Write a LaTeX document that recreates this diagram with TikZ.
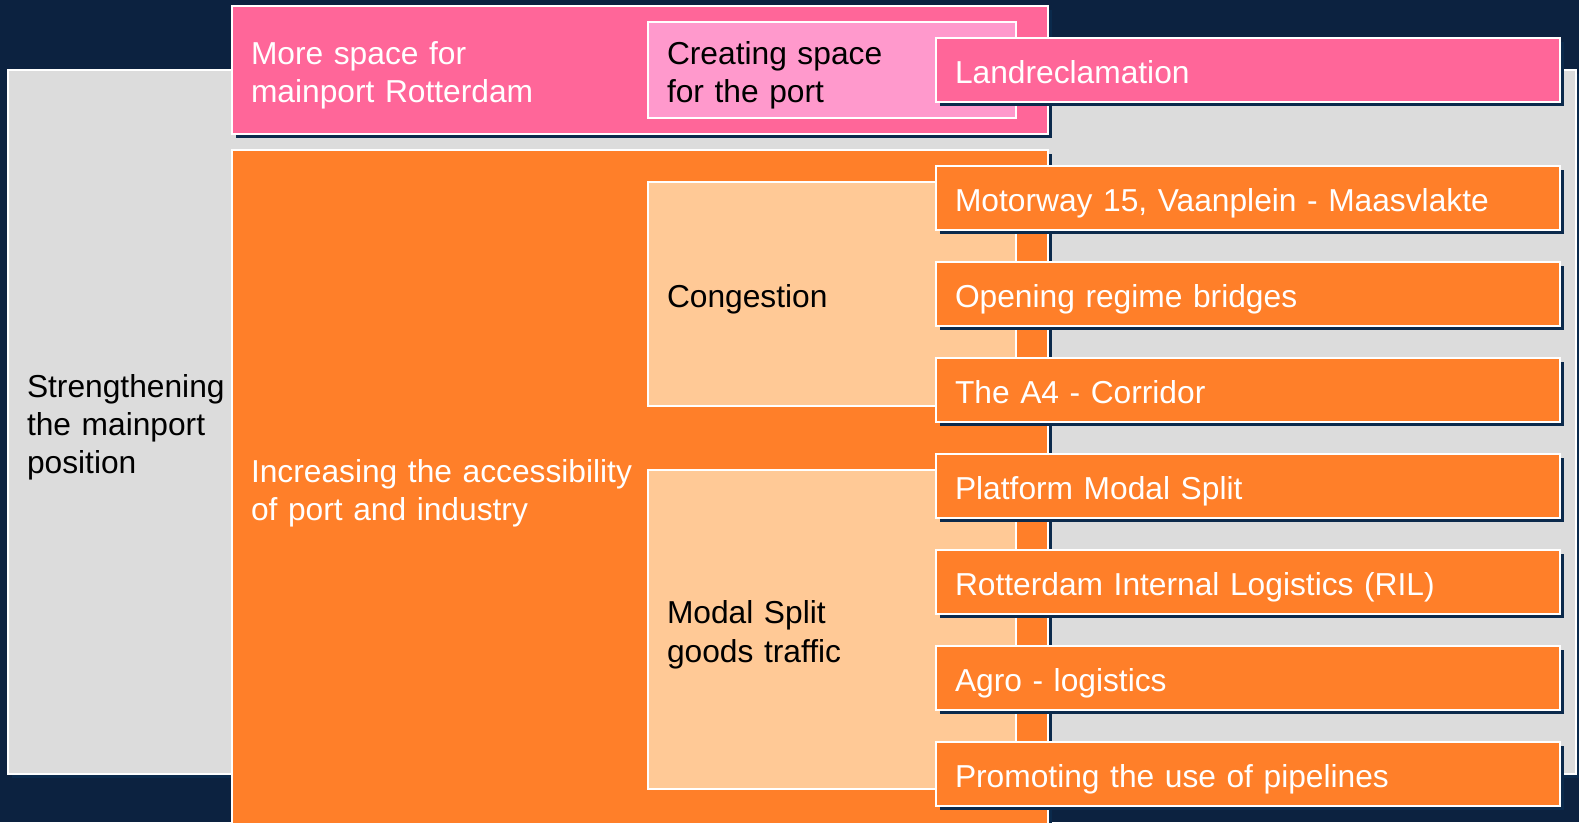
\documentclass[tikz,border=0pt]{standalone}
\usepackage{fontspec}
\setmainfont{Liberation Sans}
\usetikzlibrary{shadows}
\definecolor{navy}{HTML}{0C2240}
\definecolor{shadowc}{HTML}{0B2A4C}
\definecolor{grayA}{HTML}{DCDCDC}
\definecolor{pinkA}{HTML}{FF6699}
\definecolor{pinkB}{HTML}{FF99CC}
\definecolor{orangeA}{HTML}{FF7F29}
\definecolor{peach}{HTML}{FFC996}
\def\u{0.75pt}
\newcommand\lf{\rule[-0.212em]{0pt}{1.28em}}
\newcommand\ls{\rule[-0.212em]{0pt}{1.117em}}
\tikzset{
  flatbox/.style={anchor=north west, draw=white, line width=2*\u, inner xsep=19*\u, inner ysep=0pt,
    outer sep=0pt, align=left, font=\fontsize{23.8}{28.7}\selectfont},
  box/.style={flatbox,
    drop shadow={shadow xshift=3.5*\u, shadow yshift=-3.5*\u, fill=shadowc, opacity=1}},
  bsize/.style 2 args={minimum width=#1*\u, minimum height=#2*\u, text width=(#1-38)*\u},
  leaf/.style={box, fill=orangeA, text=white, bsize={624}{64}},
}
\begin{document}
\begin{tikzpicture}[x=\u, y=-\u]
\fill[navy] (0,0) rectangle (1579,822);
\useasboundingbox (0,0) rectangle (1579,822);
\node[box, fill=grayA, text=black, bsize={1568}{704}] (main) at (8,70) {\lf Strengthening\\\ls the mainport\\\ls position};
\node[box, fill=pinkA, text=white, bsize={816}{128}] (space) at (232,6) {\lf More space for\\\ls mainport Rotterdam};
\node[flatbox, fill=pinkB, text=black, bsize={368}{96}] (port) at (648,22) {\lf Creating space\\\ls for the port};
\node[box, fill=orangeA, text=white, bsize={816}{676}] (access) at (232,150) {\lf Increasing the accessibility\\\ls of port and industry};
\node[flatbox, fill=peach, text=black, bsize={368}{224}] (cong) at (648,182) {\lf Congestion};
\node[flatbox, fill=peach, text=black, bsize={368}{319}] (modal) at (648,470) {\lf Modal Split\\\ls goods traffic};
\node[box, fill=pinkA, text=white, bsize={624}{64}] (land) at (936,38) {\lf Landreclamation};
\node[leaf] (m15) at (936,166) {\lf Motorway 15, Vaanplein - Maasvlakte};
\node[leaf] (bridges) at (936,262) {\lf Opening regime bridges};
\node[leaf] (a4) at (936,358) {\lf The A4 - Corridor};
\node[leaf] (platform) at (936,454) {\lf Platform Modal Split};
\node[leaf] (ril) at (936,550) {\lf Rotterdam Internal Logistics (RIL)};
\node[leaf] (agro) at (936,646) {\lf Agro - logistics};
\node[leaf] (pipes) at (936,742) {\lf Promoting the use of pipelines};
\end{tikzpicture}
\end{document}
